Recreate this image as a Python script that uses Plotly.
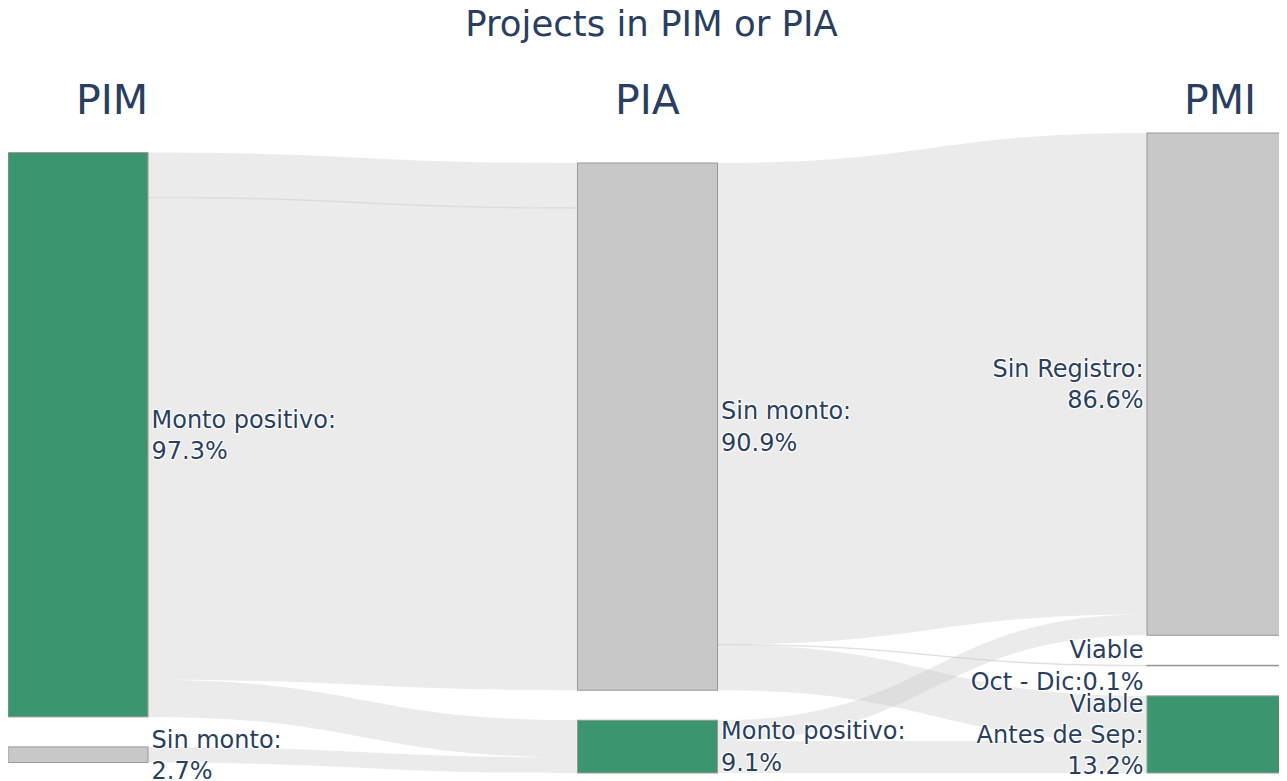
import plotly.graph_objects as go

# Nodes
node_labels = [
    "Monto positivo:<br>97.3%",       # PIM
    "Sin monto:<br>2.7%",             # PIM
    "Sin monto:<br>90.9%",            # PIA
    "Monto positivo:<br>9.1%",        # PIA
    "Sin Registro:<br>86.6%",         # PMI
    "Viable<br>Oct - Dic:0.1%",       # PMI
    "Viable<br>Antes de Sep:<br>13.2%",  # PMI
]
node_colors = ["#3b9670", "#c8c8c8", "#c8c8c8", "#3b9670", "#c8c8c8", "#c8c8c8", "#3b9670"]

# Links (percent of projects)
link_source = [0, 0, 0, 0, 1, 2, 2, 2, 3, 3]
link_target = [2, 2, 2, 3, 3, 4, 5, 6, 4, 6]
link_value = [7.7, 0.1, 83.1, 6.4, 2.7, 83.0, 0.1, 7.8, 3.6, 5.5]

column_titles = ["PIM", "PIA", "PMI"]
column_pos = [0.081, 0.5, 0.948]

fig = go.Figure(go.Sankey(
    arrangement="snap",
    textfont=dict(family="DejaVu Sans", size=24, color="#2a3f5f"),
    node=dict(
        label=node_labels,
        color=node_colors,
        thickness=140,
        pad=30,
        line=dict(color="#999999", width=1),
    ),
    link=dict(
        source=link_source,
        target=link_target,
        value=link_value,
        color="rgba(200,200,200,0.36)",
    ),
    hoverinfo="none",
))

for t, xp in zip(column_titles, column_pos):
    fig.add_annotation(
        text=t, x=xp, y=1.052, xref="paper", yref="paper",
        xanchor="center", yanchor="middle", showarrow=False,
        font=dict(family="DejaVu Sans", size=41, color="#2a3f5f"),
    )

fig.update_layout(
    width=1287, height=781,
    title=dict(text="Projects in PIM or PIA", x=0.5, xanchor="center",
               y=0.9795, yanchor="middle", yref="container",
               font=dict(family="DejaVu Sans", size=35.5, color="#2a3f5f")),
    font=dict(family="DejaVu Sans", color="#2a3f5f"),
    margin=dict(l=0, r=8, t=125, b=16),
    paper_bgcolor="white",
)

fig.write_html("out.html")
